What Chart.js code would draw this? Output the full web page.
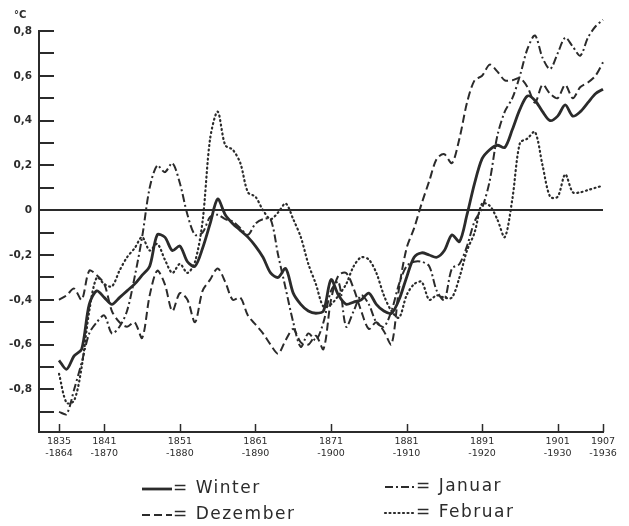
<!DOCTYPE html>
<html>
<head>
<meta charset="utf-8">
<script src="https://cdn.jsdelivr.net/npm/chart.js@4/dist/chart.umd.min.js"></script>
<style>
  html, body { margin: 0; padding: 0; background: #ffffff; }
  #wrap { position: relative; width: 629px; height: 526px; }
</style>
</head>
<body>
<div id="wrap"><canvas id="chart" width="629" height="526"></canvas></div>
<script>
// First year of each 30-year averaging window (1835-1864 ... 1907-1936)
const years = [
  1835, 1836, 1837, 1838, 1839, 1840, 1841, 1842, 1843, 1844,
  1845, 1846, 1847, 1848, 1849, 1850, 1851, 1852, 1853, 1854,
  1855, 1856, 1857, 1858, 1859, 1860, 1861, 1862, 1863, 1864,
  1865, 1866, 1867, 1868, 1869, 1870, 1871, 1872, 1873, 1874,
  1875, 1876, 1877, 1878, 1879, 1880, 1881, 1882, 1883, 1884,
  1885, 1886, 1887, 1888, 1889, 1890, 1891, 1892, 1893, 1894,
  1895, 1896, 1897, 1898, 1899, 1900, 1901, 1902, 1903, 1904,
  1905, 1906, 1907
];

// Temperature anomalies in °C, 30-year running means
const winter = [
  -0.67, -0.71, -0.65, -0.62, -0.42, -0.36, -0.39, -0.42, -0.39, -0.36,
  -0.33, -0.29, -0.25, -0.11, -0.12, -0.18, -0.16, -0.23, -0.25, -0.17,
  -0.06,  0.05, -0.02, -0.06, -0.09, -0.12, -0.16, -0.21, -0.28, -0.30,
  -0.26, -0.37, -0.42, -0.45, -0.46, -0.45, -0.31, -0.38, -0.42, -0.41,
  -0.40, -0.37, -0.42, -0.45, -0.46, -0.40, -0.30, -0.21, -0.19, -0.20,
  -0.21, -0.18, -0.11, -0.14, -0.02,  0.12,  0.23,  0.27,  0.29,  0.28,
   0.36,  0.45,  0.51,  0.49,  0.44,  0.40,  0.42,  0.47,  0.42,  0.44,
   0.48,  0.52,  0.54
];

const dezember = [
  -0.40, -0.38, -0.35, -0.40, -0.27, -0.29, -0.33, -0.45, -0.50, -0.52,
  -0.50, -0.57, -0.38, -0.27, -0.33, -0.45, -0.37, -0.40, -0.50, -0.36,
  -0.31, -0.26, -0.32, -0.40, -0.39, -0.47, -0.51, -0.55, -0.60, -0.64,
  -0.58, -0.53, -0.59, -0.60, -0.56, -0.62, -0.40, -0.29, -0.28, -0.35,
  -0.45, -0.53, -0.50, -0.54, -0.60, -0.35, -0.17, -0.08,  0.03,  0.13,
   0.23,  0.25,  0.21,  0.32,  0.48,  0.58,  0.60,  0.65,  0.62,  0.58,
   0.58,  0.59,  0.55,  0.48,  0.56,  0.52,  0.50,  0.56,  0.50,  0.55,
   0.57,  0.60,  0.66
];

const januar = [
  -0.90, -0.91, -0.80, -0.68, -0.55, -0.50, -0.47, -0.55, -0.52, -0.45,
  -0.30, -0.12,  0.10,  0.20,  0.17,  0.21,  0.12, -0.02, -0.11, -0.10,
  -0.03, -0.02, -0.04, -0.05, -0.08, -0.11, -0.06, -0.04, -0.04, -0.20,
  -0.35, -0.50, -0.61, -0.55, -0.58, -0.50, -0.36, -0.32, -0.52, -0.45,
  -0.38, -0.42, -0.50, -0.52, -0.45, -0.33, -0.25, -0.23, -0.23, -0.25,
  -0.36, -0.40, -0.26, -0.24, -0.16, -0.05,  0.01,  0.13,  0.33,  0.44,
   0.50,  0.60,  0.72,  0.78,  0.68,  0.63,  0.70,  0.77,  0.73,  0.69,
   0.77,  0.82,  0.85
];

const februar = [
  -0.73, -0.86, -0.85, -0.70, -0.45, -0.30, -0.33, -0.34, -0.27, -0.21,
  -0.17, -0.12, -0.18, -0.15, -0.22, -0.28, -0.24, -0.28, -0.23, -0.05,
   0.32,  0.44,  0.29,  0.27,  0.21,  0.08,  0.06,  0.00, -0.04, -0.01,
   0.03, -0.04, -0.12, -0.24, -0.33, -0.43, -0.42, -0.38, -0.33, -0.25,
  -0.21, -0.22, -0.28, -0.38, -0.45, -0.48, -0.38, -0.33, -0.32, -0.40,
  -0.38, -0.39, -0.39, -0.30, -0.18, -0.10,  0.03,  0.02, -0.04, -0.12,
   0.05,  0.30,  0.32,  0.35,  0.20,  0.06,  0.06,  0.16,  0.08,  0.08,
   0.09,  0.10,  0.11
];

// Axis labelling
const xTickStarts = [1835, 1841, 1851, 1861, 1871, 1881, 1891, 1901, 1907];
const xTickEnds   = ['-1864', '-1870', '-1880', '-1890', '-1900', '-1910', '-1920', '-1930', '-1936'];
const yTickValues = [0.8, 0.6, 0.4, 0.2, 0, -0.2, -0.4, -0.6, -0.8];
const yTickLabels = ['0,8', '0,6', '0,4', '0,2', '0', '-0,2', '-0,4', '-0,6', '-0,8'];
const yMinorTicks = [0.8, 0.7, 0.6, 0.5, 0.4, 0.3, 0.2, 0.1, -0.1, -0.2, -0.3, -0.4, -0.5, -0.6, -0.7, -0.8, -0.9];
const seriesNames = ['Winter', 'Dezember', 'Januar', 'Februar'];

const ink = '#2b2b2b';

function points(values) {
  return years.map((yr, i) => ({ x: yr, y: values[i] }));
}

const lineStyles = [
  { data: winter,   width: 2.8, dash: [] },
  { data: dezember, width: 2.0, dash: [8, 4] },
  { data: januar,   width: 2.0, dash: [8, 3, 2, 3] },
  { data: februar,  width: 2.2, dash: [1, 3.5] }
];

// Short tick marks drawn on the inner side of both axes
const innerTicks = {
  id: 'innerTicks',
  afterDraw(chart) {
    const { ctx, chartArea, scales } = chart;
    ctx.save();
    ctx.strokeStyle = ink;
    ctx.lineWidth = 2;
    ctx.lineCap = 'butt';
    yMinorTicks.forEach(v => {
      const py = Math.round(scales.y.getPixelForValue(v));
      ctx.beginPath();
      ctx.moveTo(chartArea.left, py);
      ctx.lineTo(chartArea.left + 15, py);
      ctx.stroke();
    });
    ctx.lineWidth = 1.5;
    xTickStarts.forEach(v => {
      const px = Math.round(scales.x.getPixelForValue(v)) + 0.5;
      ctx.beginPath();
      ctx.moveTo(px, chartArea.bottom);
      ctx.lineTo(px, chartArea.bottom - 8);
      ctx.stroke();
    });
    // unit
    ctx.fillStyle = ink;
    ctx.font = 'bold 10px "DejaVu Sans"';
    ctx.textAlign = 'left';
    ctx.textBaseline = 'middle';
    ctx.fillText('°C', 14, 15);
    ctx.restore();
  }
};

// Legend in two columns below the axis: line sample, "=", name
const lineKey = {
  id: 'lineKey',
  afterDraw(chart) {
    const { ctx } = chart;
    const slots = [
      { x: 142, y: 489 }, { x: 142, y: 515 },
      { x: 385, y: 487 }, { x: 385, y: 513 }
    ];
    ctx.save();
    chart.data.datasets.forEach((ds, k) => {
      const s = slots[k];
      ctx.strokeStyle = ink;
      ctx.lineWidth = ds.borderWidth;
      ctx.setLineDash(ds.borderDash || []);
      ctx.lineCap = k === 3 ? 'round' : 'butt';
      ctx.beginPath();
      ctx.moveTo(s.x, s.y);
      ctx.lineTo(s.x + 30, s.y);
      ctx.stroke();
      ctx.setLineDash([]);
      ctx.fillStyle = ink;
      ctx.font = '17px "DejaVu Sans"';
      ctx.letterSpacing = '1.5px';
      ctx.textAlign = 'left';
      ctx.textBaseline = 'middle';
      ctx.fillText('= ' + ds.label, s.x + 31, s.y);
    });
    ctx.restore();
  }
};

new Chart(document.getElementById('chart'), {
  type: 'line',
  data: {
    datasets: lineStyles.map((st, i) => ({
      label: seriesNames[i],
      data: points(st.data),
      borderColor: ink,
      borderWidth: st.width,
      borderDash: st.dash,
      borderCapStyle: i === 3 ? 'round' : 'butt',
      pointRadius: 0,
      tension: 0.3,
      fill: false,
      clip: false
    }))
  },
  options: {
    responsive: false,
    animation: false,
    devicePixelRatio: 1,
    layout: { padding: { top: 31, right: 26, left: 0, bottom: 0 } },
    plugins: { legend: { display: false }, tooltip: { enabled: false } },
    scales: {
      x: {
        type: 'linear',
        min: 1832.35,
        max: 1907,
        afterBuildTicks: s => { s.ticks = xTickStarts.map(v => ({ value: v })); },
        afterFit: s => { s.height = 94; },
        grid: { display: false, drawTicks: false },
        border: { display: true, color: ink, width: 2 },
        ticks: {
          autoSkip: false,
          maxRotation: 0,
          padding: 4,
          color: ink,
          font: { family: '"DejaVu Sans"', size: 9.5 },
          callback: (v, i) => [String(xTickStarts[i]), xTickEnds[i]]
        }
      },
      y: {
        min: -0.99,
        max: 0.8,
        afterBuildTicks: s => { s.ticks = yTickValues.map(v => ({ value: v })); },
        afterFit: s => { s.width = 39; },
        grid: {
          drawTicks: false,
          lineWidth: 2,
          color: c => (c.tick && c.tick.value === 0) ? ink : 'rgba(0,0,0,0)'
        },
        border: { display: true, color: ink, width: 2 },
        ticks: {
          padding: 7,
          color: ink,
          font: { family: '"DejaVu Sans"', size: 10.5, weight: 'bold' },
          callback: (v, i) => yTickLabels[i]
        }
      }
    }
  },
  plugins: [innerTicks, lineKey]
});
</script>
</body>
</html>
